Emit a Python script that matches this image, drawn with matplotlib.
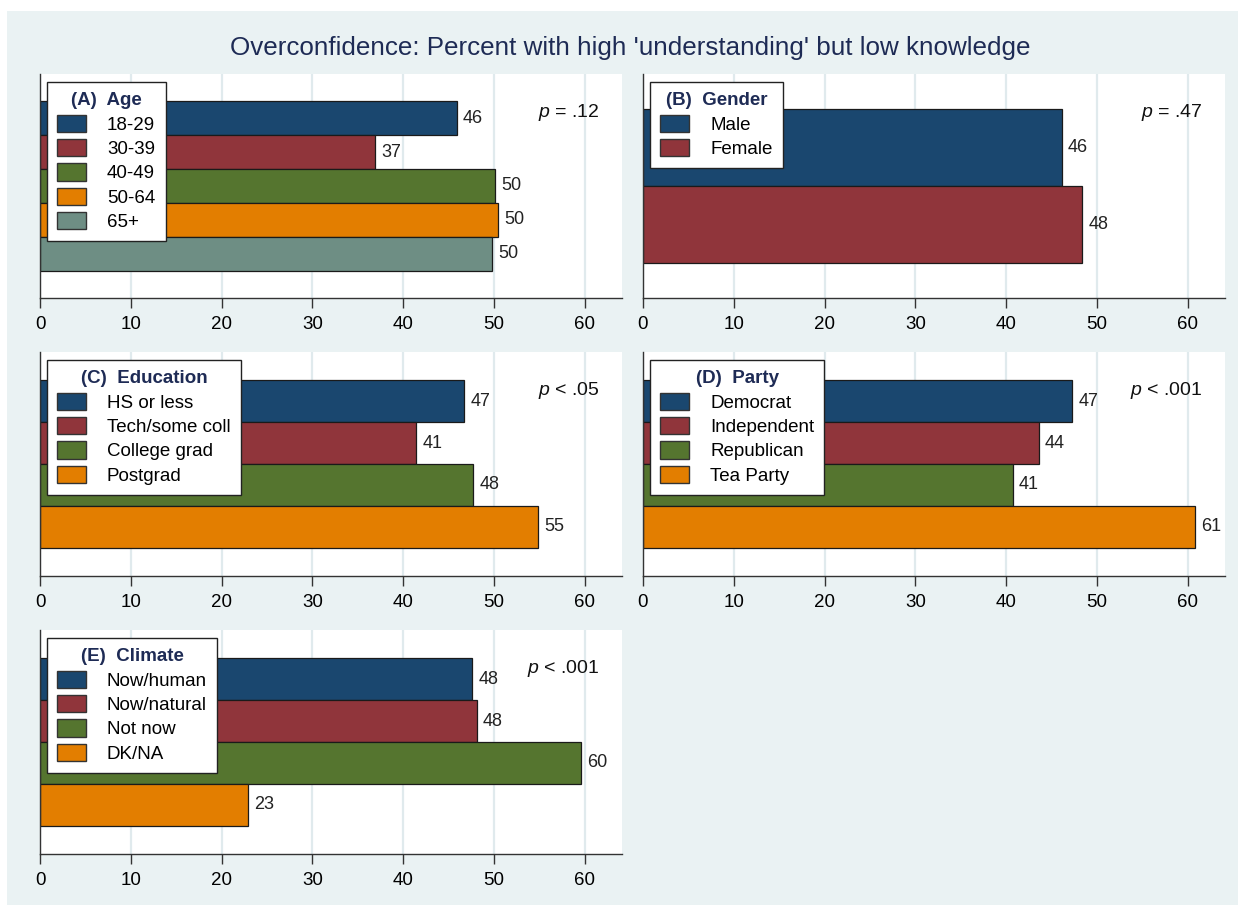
import matplotlib
matplotlib.use("Agg")
import matplotlib.pyplot as plt
import matplotlib.patches as patches

plt.rcParams["font.family"] = ["Liberation Sans", "DejaVu Sans"]
plt.rcParams["mathtext.fontset"] = "custom"
plt.rcParams["mathtext.it"] = "Liberation Sans:italic"
plt.rcParams["mathtext.rm"] = "Liberation Sans"

### Colours (Stata s2color-like)
NAVY = "#1A476F"
MAROON = "#90353B"
GREEN = "#55752F"
ORANGE = "#E37E00"
TEAL = "#6E8E84"
BG = "#EAF2F3"
GRID = "#E0EAED"
TITLE_BLUE = "#1E2B55"
EDGE = "#1a1a1a"
COLORS = [NAVY, MAROON, GREEN, ORANGE, TEAL]

### Data
age_groups = ["18-29", "30-39", "40-49", "50-64", "65+"]
age_pct = [45.9, 36.9, 50.1, 50.4, 49.8]

gender_groups = ["Male", "Female"]
gender_pct = [46.1, 48.4]

educ_groups = ["HS or less", "Tech/some coll", "College grad", "Postgrad"]
educ_pct = [46.7, 41.4, 47.7, 54.9]

party_groups = ["Democrat", "Independent", "Republican", "Tea Party"]
party_pct = [47.3, 43.6, 40.7, 60.8]

climate_groups = ["Now/human", "Now/natural", "Not now", "DK/NA"]
climate_pct = [47.6, 48.1, 59.6, 22.9]

panel_titles = ["(A)  Age", "(B)  Gender", "(C)  Education", "(D)  Party", "(E)  Climate"]
p_texts = ["$p$ = .12", "$p$ = .47", "$p$ < .05", "$p$ < .001", "$p$ < .001"]

PANELS = [
    (age_groups, age_pct),
    (gender_groups, gender_pct),
    (educ_groups, educ_pct),
    (party_groups, party_pct),
    (climate_groups, climate_pct),
]

W, H = 1244, 911
fig = plt.figure(figsize=(W / 100, H / 100), dpi=100, facecolor="white")

# light bluish graph region
fig.patches.append(
    patches.Rectangle(
        (7 / W, 1 - 905 / H), (1238 - 7) / W, (905 - 11) / H,
        transform=fig.transFigure, facecolor=BG, edgecolor="none", zorder=-10,
    )
)


def px_axes(left, top, right, bottom):
    return fig.add_axes([left / W, 1 - bottom / H, (right - left) / W, (bottom - top) / H])


# pixel boxes of the five plot regions and vertical padding (in bar units)
boxes = [
    (40, 74, 622, 298),
    (643, 74, 1225, 298),
    (40, 352, 622, 576),
    (643, 352, 1225, 576),
    (40, 630, 622, 854),
]
pads = [0.8, 0.46, 0.68, 0.68, 0.68]

for i, ((groups, vals), box, pad) in enumerate(zip(PANELS, boxes, pads)):
    ax = px_axes(*box)
    n = len(groups)
    ypos = list(range(n))
    cols = COLORS[:n]

    ax.barh(ypos, vals, height=1.0, color=cols, edgecolor=EDGE, linewidth=0.9)
    for y, v in zip(ypos, vals):
        ax.annotate(
            f"{v:.0f}", xy=(v, y), xytext=(4.5, 0), textcoords="offset points",
            ha="left", va="center", fontsize=13, color="#222222",
        )

    ax.set_xlim(0, 64.1)
    ax.set_ylim(n - 0.5 + pad, -0.5 - pad)
    ax.set_xticks(range(0, 70, 10))
    ax.set_yticks([])
    ax.set_axisbelow(True)
    ax.grid(axis="x", color=GRID, lw=1.6)
    ax.tick_params(axis="x", length=7, width=1, color="#333333", labelsize=13.5, pad=6)

    for s in ["top", "right"]:
        ax.spines[s].set_visible(False)
    for s in ["left", "bottom"]:
        ax.spines[s].set_color("#333333")
        ax.spines[s].set_linewidth(1)

    # p-value in the upper right
    ax.text(0.962, 0.828, p_texts[i], transform=ax.transAxes,
            ha="right", va="center", fontsize=14, color="#111111")

    handles = [
        patches.Patch(facecolor=c, edgecolor="#333333", linewidth=1, label=g)
        for g, c in zip(groups, cols)
    ]
    bw, bh = box[2] - box[0], box[3] - box[1]
    leg = ax.legend(
        handles=handles, title=panel_titles[i],
        loc="upper left", bbox_to_anchor=(7 / bw, 1 - 8 / bh), borderaxespad=0,
        fontsize=13.5, title_fontproperties={"weight": "bold", "size": 13.5},
        handlelength=1.55, handleheight=1.05, handletextpad=1.1,
        labelspacing=0.28, borderpad=0.55, fancybox=False, framealpha=1,
        edgecolor="#222222",
    )
    leg.get_frame().set_linewidth(1)
    leg.get_title().set_color(TITLE_BLUE)

fig.text(630 / W, 1 - 48 / H,
         "Overconfidence: Percent with high 'understanding' but low knowledge",
         ha="center", va="center", fontsize=18.7, color=TITLE_BLUE)

fig.savefig("out.png", dpi=100, facecolor="white")
